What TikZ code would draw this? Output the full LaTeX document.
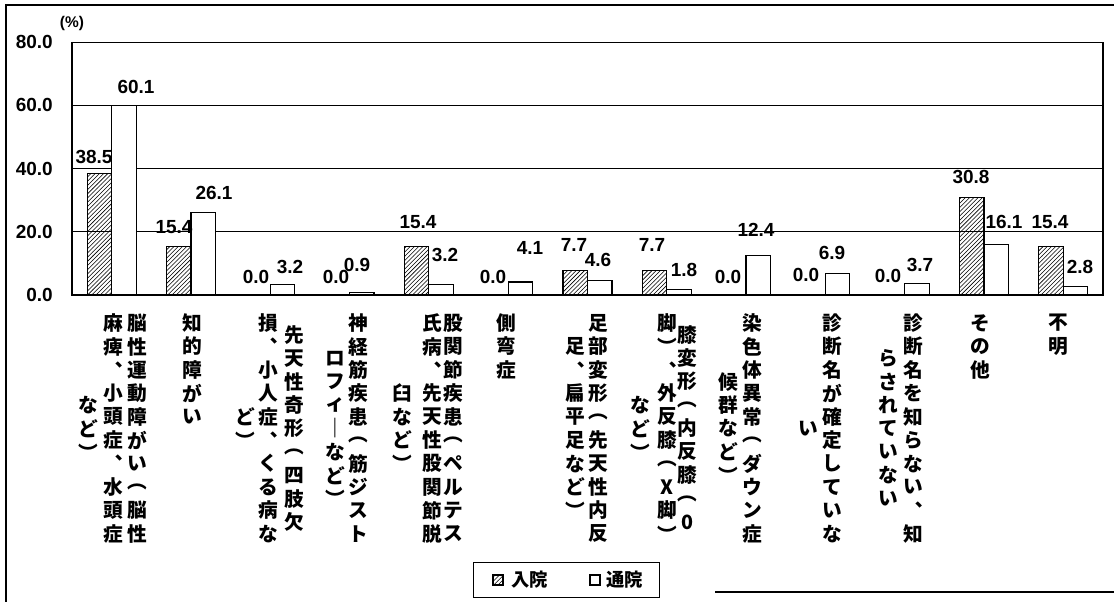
\documentclass[tikz,border=0pt]{standalone}
\usepackage{fontspec}
\setmainfont{Liberation Sans}
\newfontfamily\jpfont{Noto Sans CJK JP}
\usetikzlibrary{patterns}

\makeatletter
\newcommand\tate[1]{\vbox{\offinterlineskip
  \expandafter\@tfor\expandafter\tate@c\expandafter:\expandafter=#1\do{%
    \hbox to 14pt{\hss\vbox to 16.65pt{\vss\hbox{\tate@c}\vss}\hss}}}}
\makeatother

\begin{document}
\begin{tikzpicture}[
		x=0.025cm, y=-0.025cm,
		grid/.style={line width=0.7pt},
		bar/.style={draw, line width=0.8pt},
		inbar/.style={bar, pattern=north east lines},
		outbar/.style={bar, fill=white},
		val/.style={inner sep=0, font=\bfseries\fontsize{13.5}{14}\selectfont},
		cat/.style={inner sep=0, font=\jpfont\bfseries\fontsize{14}{16}\selectfont},
		key/.style={inner sep=0, font=\jpfont\bfseries\fontsize{13}{14}\selectfont}
	]
  \useasboundingbox (0,0) rectangle (1114,602);
  \draw[line width=1pt] (1114,5) -- (6,5) -- (6,602);
  \draw[line width=1pt] (715,592) -- (1114,592);

  \foreach \v in {20,40,60,80}
    \draw[grid] (72,295-3.16*\v) -- (1103,295-3.16*\v);
  \draw[line width=1pt] (72,42) -- (72,295) -- (1103,295) -- (1103,42);
  \foreach \v in {0,20,40,60,80}
    \node[val, anchor=east] (tick\v) at (53,295-3.16*\v) {\v.0};
  \node[inner sep=0, font=\bfseries\fontsize{11}{12}\selectfont] (unit) at (72,24) {(\%)};

  \foreach \i/\a/\b in {1/38.5/60.1, 2/15.4/26.1, 3/0.0/3.2, 4/0.0/0.9, 5/15.4/3.2,
      6/0.0/4.1, 7/7.7/4.6, 8/7.7/1.8, 9/0.0/12.4, 10/0.0/6.9, 11/0.0/3.7,
      12/30.8/16.1, 13/15.4/2.8} {
    \pgfmathsetmacro\cx{72+79.3*(\i-0.5)}
    \draw[inbar] (\cx-24.5,295) rectangle (\cx,295-3.16*\a);
    \draw[outbar] (\cx,295) rectangle (\cx+24.5,295-3.16*\b);
  }

  \foreach \x/\y/\t [count=\k] in {94/157/38.5, 136/87/60.1, 174/227/15.4, 214/193/26.1,
      256/277/0.0, 290/267/3.2, 336/277/0.0, 357/265/0.9, 418/222/15.4, 445/255/3.2,
      493/277/0.0, 530/248/4.1, 574/245/7.7, 598/260/4.6, 652/245/7.7, 684/270/1.8,
      728/277/0.0, 756/230/12.4, 806/275/0.0, 832/253/6.9, 888/276/0.0, 920/265/3.7,
      971/177/30.8, 1004/222/16.1, 1050/222/15.4, 1080/267/2.8}
    \node[val] (val\k) at (\x,\y) {\t};

  \foreach \x/\y/\a/\t [count=\k] in {
      137/428.5/center/脳性運動障がい︵脳性, 113/428.5/center/麻痺︑小頭症︑水頭症, 88/428.5/center/など︶,
      192/311/north/知的障がい,
      294/428.5/center/先天性奇形︵四肢欠, 268/428.5/center/損︑小人症︑くる病な, 245/428.5/center/ど︶,
      358/428.5/center/神経筋疾患︵筋ジスト, 335/428.5/center/ロフィ｜など︶,
      453/428.5/center/股関節疾患︵ペルテス, 432/428.5/center/氏病︑先天性股関節脱, 402/428.5/center/臼など︶,
      506/311/north/側弯症,
      598/428.5/center/足部変形︵先天性内反, 575/428.5/center/足︑扁平足など︶,
      687/428.5/center/膝変形︵内反膝︵0, 667/428.5/center/脚︶︑外反膝︵X脚︶, 640/428.5/center/など︶,
      752/428.5/center/染色体異常︵ダウン症, 728/428.5/center/候群など︶,
      832/428.5/center/診断名が確定していな, 808/428.5/center/い,
      913/428.5/center/診断名を知らない︑知, 888/428.5/center/らされていない,
      980/311/north/その他,
      1058/311/north/不明}
    \node[cat, anchor=\a] (lbl\k) at (\x,\y) {\tate{\t}};

  \node[draw, line width=0.8pt, inner sep=0, minimum width=4.65cm, minimum height=0.875cm,
    anchor=north west] (legend) at (473,562) {};
  \draw[inbar] (493,575) rectangle (503,585);
  \node[key, anchor=west] (keyin) at (511,580) {入院};
  \draw[outbar] (590,575) rectangle (600,585);
  \node[key, anchor=west] (keyout) at (606,580) {通院};
\end{tikzpicture}
\end{document}
